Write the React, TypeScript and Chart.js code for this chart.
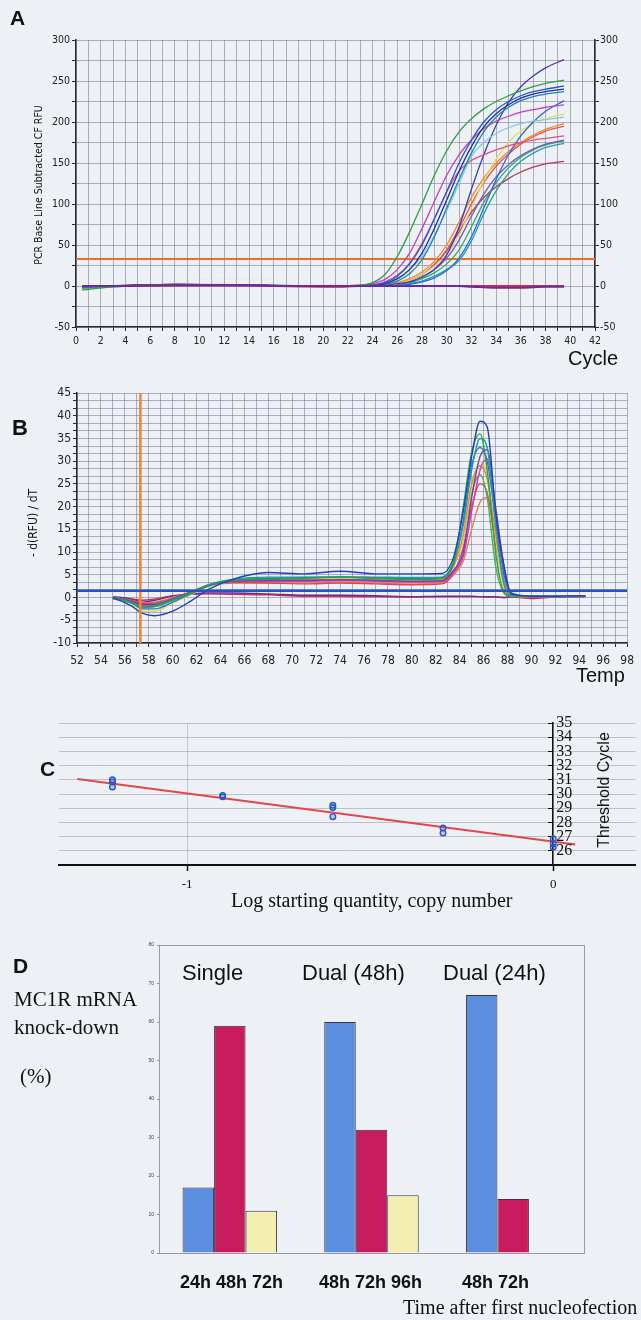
import React, { useEffect, useRef } from "react";
import { Chart, registerables } from "chart.js";

Chart.register(...registerables);

// ---------------- Panel A : amplification curves ----------------
const A_CYCLE = [0.5, 3, 8, 13, 18, 21, 23, 24, 25, 26, 27, 28, 29, 30, 31, 32, 33, 34, 35, 36, 37, 38, 39.5];
const A_GREEN_EARLY = [-5, -1, 1.5, 1, 0, 0, 1, 4, 14, 36, 66, 100, 135, 165, 188, 204, 216, 225, 232, 238, 243, 247, 251];
const A_BLUE_1 = [-1, 0, 2, 1.5, 0, -0.5, 0, 1, 4, 12, 27, 50, 82, 115, 150, 178, 200, 215, 225, 232, 237, 240, 244];
const A_BLUE_DARK = [0, 0.5, 2, 1, 0, -0.5, 0, 1, 3, 9, 20, 40, 70, 105, 140, 170, 194, 210, 221, 229, 234, 237, 240];
const A_TEAL_1 = [-1, 0, 1.5, 1, 0.5, 0, 0, 0.5, 2, 6, 15, 32, 60, 95, 130, 162, 188, 206, 218, 226, 231, 234, 237];
const A_MAGENTA = [-2, 0, 1.5, 1, 0, 0, 1, 3, 8, 20, 40, 70, 103, 135, 160, 178, 192, 201, 207, 212, 215, 218, 221];
const A_PINK = [-1, 0, 2, 1, 0, 0, 0, 1, 5, 13, 28, 52, 82, 115, 140, 153, 160, 166, 171, 175, 178, 180, 183];
const A_CYAN = [-1, 0.5, 1.5, 1, 0, 0, 0, 1, 3, 8, 20, 36, 62, 92, 125, 158, 175, 186, 193, 198, 201, 203, 206];
const A_NAVY = [0, 0, 2, 1, 0, -0.5, 0, 0, 1, 3, 5, 11, 20, 38, 72, 118, 160, 196, 224, 243, 256, 266, 276];
const A_BLUE_LATE = [-1, 0, 1.5, 1, 0, -0.5, 0, 0, 0, 0, 2, 5, 10, 19, 34, 60, 95, 130, 160, 183, 200, 213, 226];
const A_YELLOW = [-1, 0, 1, 1, 0, 0, 0, 0, 1, 3, 7, 14, 24, 38, 62, 95, 128, 155, 175, 189, 198, 204, 210];
const A_ORANGE = [-1, 0, 1.5, 1, 0, 0, 0, 0, 1, 4, 9, 17, 30, 50, 78, 108, 132, 150, 164, 175, 184, 191, 198];
const A_RED = [-1, 0, 1.5, 1, -0.5, -1, 0, 0, 1, 3, 7, 14, 26, 44, 70, 100, 126, 146, 161, 173, 182, 189, 195];
const A_VIOLET = [0, 0, 1.5, 1, 0, 0, 0, 0, 0, 2, 5, 11, 20, 34, 56, 85, 112, 133, 148, 159, 167, 173, 178];
const A_GREEN_LATE = [-3, -1, 1, 1, 0, 0, 0, 0, 0, 1, 4, 9, 16, 27, 44, 72, 102, 126, 144, 157, 166, 172, 177];
const A_TEAL_LATE = [-1, 0, 1, 1, 0, 0, 0, 0, 0, 1, 3, 6, 12, 20, 31, 55, 88, 116, 137, 152, 162, 169, 174];
const A_MAROON = [-1, 0, 1, 1, 0, 0, 0, 0, 1, 3, 7, 14, 26, 43, 66, 90, 108, 121, 131, 139, 145, 149, 152];
const A_NEG_PURPLE = [0, 0, 1, 1, 0, 0, 0, 0, 0, 0, 0, 0, 0, 0, 0, -1, -1.5, -2, -2, -2, -1.5, -1, -1];
const A_NEG_RED = [0, 0, 0.5, 0.5, -0.5, -1, 0, 0, 0, 0, 0, 0, 0, 0, 0, 0, 0, 0, 0, 0, 0, 0, 0];
const A_THRESHOLD = 33;
const A_X_RANGE = [0, 42];
const A_Y_RANGE = [-50, 300];

// ---------------- Panel B : melt curves ----------------
const B_TEMP = [55, 56.5, 57.5, 58.5, 60, 61.5, 63, 65, 68, 71, 74, 77, 80, 82.5, 83.5, 84.3, 85, 85.7, 86.3, 87, 87.7, 88.3, 90, 92, 94.5];
const B_BLUE_TALL = [0, -1.8, -3.5, -4, -3, -0.8, 1.8, 4, 5.5, 5.2, 5.8, 5.2, 5.2, 5.3, 9, 19, 31, 38.8, 37.5, 19, 7, 0.8, 0.3, 0.3, 0.4];
const B_GREEN = [0, -1, -2, -1.8, -0.5, 1, 2.8, 3.8, 4, 4.2, 4.5, 4.2, 4, 4.2, 8, 20, 32, 36, 28, 10, 1.2, 0.4, 0.3, 0.3, 0.4];
const B_TEAL = [-0.3, -1.2, -2.2, -2, -0.6, 1, 2.8, 4, 4.5, 4.5, 4.6, 4.5, 4.4, 4.5, 8, 16, 28, 35, 33, 16, 3, 0.5, 0.3, 0.2, 0.3];
const B_BLUE = [-0.2, -1, -2.5, -2.5, -1, 0.8, 2.6, 3.8, 4.2, 4.4, 4.5, 4.3, 4.2, 4.3, 7.5, 17, 29, 33, 30, 17, 5, 1, 0.3, 0.3, 0.3];
const B_PURPLE = [0, -0.8, -1.5, -1.5, -0.3, 1.2, 2.8, 3.6, 3.8, 3.8, 3.9, 3.8, 3.6, 3.7, 6, 10, 22, 31, 32.5, 20, 7, 1, 0.2, 0.2, 0.3];
const B_MAGENTA = [0, -0.8, -1.8, -1.6, -0.4, 1, 2.6, 3.5, 3.6, 3.6, 3.7, 3.6, 3.4, 3.5, 5.5, 9, 19, 28, 30.5, 18, 6, 1, 0.2, 0.1, 0.2];
const B_ORANGE = [0, -1, -2, -2, -0.6, 1, 2.6, 3.5, 3.8, 3.8, 4, 3.8, 3.6, 3.8, 7, 14, 25, 29, 26, 14, 3, 0.5, 0.2, 0.2, 0.3];
const B_YELLOW = [0, -1.2, -3, -3, -1.2, 0.6, 2.4, 3.6, 4, 4, 4.2, 4, 3.9, 4, 7, 13, 24, 30, 27, 13, 2, 0.4, 0.2, 0.2, 0.3];
const B_GREEN_2 = [0, -0.8, -1.6, -1.4, -0.3, 1.2, 2.8, 3.8, 4.2, 4.3, 4.4, 4.3, 4.2, 4.3, 7, 13, 23, 27, 22, 7, 1, 0.3, 0.2, 0.2, 0.3];
const B_RED = [0, -0.6, -1.3, -1.2, -0.2, 1.2, 2.6, 3.3, 3.2, 3, 3.2, 3, 2.8, 3, 5.5, 11, 20, 25, 23, 12, 3, 0.5, 0.1, 0.1, 0.2];
const B_SALMON = [0, -0.6, -1.2, -1, 0, 1.2, 2.5, 3.2, 3.2, 3.2, 3.3, 3.2, 3, 3.2, 5, 8, 15, 21, 22, 13, 4, 0.7, 0.2, 0.1, 0.2];
const B_NEG_PURPLE = [0.2, -0.3, -1, -0.6, 0.3, 0.8, 1, 1, 0.8, 0.5, 0.5, 0.4, 0.2, 0.3, 0.3, 0.3, 0.3, 0.2, 0.2, 0.2, 0, 0.2, 0, 0.2, 0.3];
const B_NEG_RED = [0, -0.3, -0.6, -0.3, 0.4, 0.7, 0.8, 0.7, 0.6, 0.3, 0.3, 0.2, 0.1, 0.2, 0.2, 0.2, 0.2, 0.2, 0.1, 0.1, 0, 0.1, -0.2, 0.1, 0.2];
const B_MARKER_TEMP = 57.3;
const B_BASELINE = 1.5;
const B_X_RANGE = [52, 98];
const B_Y_RANGE = [-10, 45];

// ---------------- Panel C : standard curve ----------------
const C_LOG_QTY = [-1.204, -1.204, -1.204, -0.903, -0.903, -0.602, -0.602, -0.602, -0.301, -0.301, 0, 0, 0];
const C_CT = [31.0, 30.85, 30.5, 29.9, 29.8, 29.2, 29.05, 28.4, 27.6, 27.25, 26.85, 26.5, 26.25];
const C_FIT_X = [-1.3, 0.06];
const C_FIT_Y = [31.05, 26.45];
const C_X_TICKS = [-1, 0];
const C_Y_GRID = [25, 26, 27, 28, 29, 30, 31, 32, 33, 34, 35];
const C_Y_LABELS = [26, 27, 28, 29, 30, 31, 32, 33, 34, 35];
const C_X_RANGE = [-1.35, 0.225];

// ---------------- Panel D : knock-down bars ----------------
const D_GROUPS = ["Single", "Dual (48h)", "Dual (24h)"];
const D_TIMES = ["24h 48h 72h", "48h 72h 96h", "48h 72h"];
const D_FIRST = [17, 60, 67];
const D_SECOND = [59, 32, 14];
const D_THIRD = [11, 15, null];
const D_Y_RANGE = [0, 80];

// ---------------- styles ----------------
const BG = "#edf0f5";
const SANS = '"Liberation Sans", Arial, sans-serif';
const SERIF = '"Liberation Serif", "Times New Roman", serif';
const TAHOMA = '"DejaVu Sans Condensed", "DejaVu Sans", Verdana, sans-serif';
const GRID = "rgba(105,105,135,0.5)";
const AXIS = "#2a2a35";

const A_SERIES = [
  A_GREEN_EARLY, A_BLUE_1, A_BLUE_DARK, A_TEAL_1, A_MAGENTA, A_PINK, A_CYAN, A_NAVY,
  A_BLUE_LATE, A_YELLOW, A_ORANGE, A_RED, A_VIOLET, A_GREEN_LATE, A_TEAL_LATE, A_MAROON,
  A_NEG_PURPLE, A_NEG_RED,
];
const A_COLORS = [
  "#2f9e44", "#2456d6", "#1e2f9c", "#1f86a8", "#c23fc2", "#e2507e", "#7fcbe6", "#3a3fb5",
  "#2a66e0", "#e2dc66", "#f08a24", "#e45454", "#7656d6", "#33ad55", "#1ea3a3", "#b33a56",
  "#6b2a9c", "#d42c44",
];
const B_SERIES = [
  B_BLUE_TALL, B_GREEN, B_TEAL, B_BLUE, B_PURPLE, B_MAGENTA, B_ORANGE, B_YELLOW,
  B_GREEN_2, B_RED, B_SALMON, B_NEG_PURPLE, B_NEG_RED,
];
const B_COLORS = [
  "#2040c0", "#2fa040", "#1fa0a0", "#2a70d8", "#7a3ab8", "#d040a0", "#f08a24", "#d8d860",
  "#4ab060", "#e04848", "#e0806a", "#6a2a9c", "#d03040",
];

const noPlugins = { legend: { display: false }, tooltip: { enabled: false } };

function makeA(): any {
  const datasets: any[] = [A_NEG_PURPLE, A_NEG_RED].map((vals, k) => ({
    data: A_CYCLE.map((x, j) => ({ x, y: vals[j] })),
    borderColor: A_COLORS[16 + k],
    borderWidth: 2,
    pointRadius: 0,
    cubicInterpolationMode: "monotone",
  }));
  A_SERIES.slice(0, 16).forEach((vals, i) => {
    datasets.push({
      data: A_CYCLE.map((x, j) => ({ x, y: vals[j] })),
      borderColor: A_COLORS[i],
      borderWidth: 1.3,
      pointRadius: 0,
      cubicInterpolationMode: "monotone",
    });
  });
  datasets.push({
    data: A_X_RANGE.map((x) => ({ x, y: A_THRESHOLD })),
    borderColor: "#f26a2c",
    borderWidth: 2,
    pointRadius: 0,
  });
  const tickFont = { family: TAHOMA, size: 10.5 };
  return {
    type: "line",
    data: { datasets },
    options: {
      animation: false,
      responsive: false,
      devicePixelRatio: 1,
      layout: { padding: { top: 40, left: 0, right: 0, bottom: 0 } },
      plugins: noPlugins,
      scales: {
        x: {
          type: "linear",
          min: A_X_RANGE[0],
          max: A_X_RANGE[1],
          afterFit: (s: any) => { s.height = 25; },
          ticks: {
            stepSize: 1,
            autoSkip: false,
            maxRotation: 0,
            padding: 4,
            font: tickFont,
            color: "#222",
            callback: (v: number) => (v % 2 === 0 ? String(v) : ""),
          },
          grid: { color: GRID, lineWidth: 1, tickLength: 4, tickColor: AXIS },
          border: { color: AXIS, width: 1.5 },
        },
        y: {
          type: "linear",
          position: "left",
          min: A_Y_RANGE[0],
          max: A_Y_RANGE[1],
          afterFit: (s: any) => { s.width = 76; },
          ticks: {
            stepSize: 25,
            autoSkip: false,
            padding: 2,
            font: tickFont,
            color: "#222",
            callback: (v: number) => (v % 50 === 0 ? String(v) : ""),
          },
          grid: { color: GRID, lineWidth: 1, tickLength: 4, tickColor: AXIS },
          border: { color: AXIS, width: 1.5 },
        },
        y2: {
          type: "linear",
          position: "right",
          min: A_Y_RANGE[0],
          max: A_Y_RANGE[1],
          afterFit: (s: any) => { s.width = 46; },
          ticks: {
            stepSize: 25,
            autoSkip: false,
            padding: 1,
            font: tickFont,
            color: "#222",
            callback: (v: number) => (v % 50 === 0 ? String(v) : ""),
          },
          grid: { drawOnChartArea: false, tickLength: 4, tickColor: AXIS },
          border: { color: AXIS, width: 1.5 },
        },
      },
    },
  };
}

function makeB(): any {
  const datasets: any[] = [];
  datasets.push({
    data: B_X_RANGE.map((x) => ({ x, y: B_BASELINE })),
    borderColor: "#2454c4",
    borderWidth: 2.5,
    pointRadius: 0,
  });
  datasets.push({
    data: B_Y_RANGE.map((y) => ({ x: B_MARKER_TEMP, y })),
    borderColor: "#f0843a",
    borderWidth: 2.5,
    pointRadius: 0,
  });
  B_SERIES.forEach((vals, i) => {
    datasets.push({
      data: B_TEMP.map((x, j) => ({ x, y: vals[j] })),
      borderColor: B_COLORS[i],
      borderWidth: 1.4,
      pointRadius: 0,
      cubicInterpolationMode: "monotone",
    });
  });
  const tickFont = { family: TAHOMA, size: 12 };
  const yTicks: number[] = [];
  for (let i = 0; i <= 33; i++) yTicks.push(B_Y_RANGE[0] + (i * 5) / 3);
  return {
    type: "line",
    data: { datasets },
    options: {
      animation: false,
      responsive: false,
      devicePixelRatio: 1,
      layout: { padding: { top: 13, left: 0, right: 7, bottom: 0 } },
      plugins: noPlugins,
      scales: {
        x: {
          type: "linear",
          min: B_X_RANGE[0],
          max: B_X_RANGE[1],
          afterFit: (s: any) => { s.height = 37; },
          ticks: {
            stepSize: 1,
            autoSkip: false,
            maxRotation: 0,
            padding: 7,
            font: tickFont,
            color: "#222",
            callback: (v: number) => (v % 2 === 0 ? String(v) : ""),
          },
          grid: { color: GRID, tickLength: 4, tickColor: AXIS },
          border: { color: AXIS, width: 1.5 },
        },
        y: {
          type: "linear",
          min: B_Y_RANGE[0],
          max: B_Y_RANGE[1],
          afterBuildTicks: (s: any) => { s.ticks = yTicks.map((v) => ({ value: v })); },
          afterFit: (s: any) => { s.width = 77; },
          ticks: {
            autoSkip: false,
            padding: 2,
            font: tickFont,
            color: "#222",
            callback: (v: number) =>
              Math.abs(v / 5 - Math.round(v / 5)) < 1e-6 ? String(Math.round(v)) : "",
          },
          grid: { color: GRID, tickLength: 4, tickColor: AXIS },
          border: { color: AXIS, width: 1.5 },
        },
      },
    },
  };
}

const cAxisLabels = {
  id: "cAxisLabels",
  afterDraw(chart: any) {
    const { ctx } = chart;
    const xs = chart.scales.x;
    const ys = chart.scales.y;
    const x0 = xs.getPixelForValue(0);
    ctx.save();
    ctx.font = `16px ${SERIF}`;
    ctx.fillStyle = "#111";
    ctx.textAlign = "left";
    ctx.textBaseline = "middle";
    C_Y_LABELS.forEach((v) => ctx.fillText(String(v), x0 + 3, ys.getPixelForValue(v)));
    ctx.restore();
  },
};

function makeC(): any {
  return {
    type: "scatter",
    data: {
      datasets: [
        {
          type: "scatter",
          data: C_LOG_QTY.map((x, i) => ({ x, y: C_CT[i] })),
          pointRadius: 2.8,
          pointBorderWidth: 1.4,
          borderColor: "#2a58c8",
          backgroundColor: "rgba(40,80,200,0.25)",
        },
        {
          type: "line",
          data: C_FIT_X.map((x, i) => ({ x, y: C_FIT_Y[i] })),
          borderColor: "#e2484a",
          borderWidth: 2,
          pointRadius: 0,
        },
      ],
    },
    options: {
      animation: false,
      responsive: false,
      devicePixelRatio: 1,
      layout: { padding: { top: 23, left: 59, right: 0, bottom: 0 } },
      plugins: noPlugins,
      scales: {
        x: {
          type: "linear",
          min: C_X_RANGE[0],
          max: C_X_RANGE[1],
          afterBuildTicks: (s: any) => { s.ticks = C_X_TICKS.map((v) => ({ value: v })); },
          afterFit: (s: any) => { s.height = 50; },
          ticks: { padding: 6, font: { family: SERIF, size: 13 }, color: "#111", maxRotation: 0 },
          grid: { color: "rgba(120,120,130,0.35)", tickLength: 6, tickColor: "#111", tickWidth: 1.5 },
          border: { color: "#111", width: 2 },
        },
        y: {
          type: "linear",
          position: { x: 0 },
          min: 25,
          max: 35,
          afterBuildTicks: (s: any) => { s.ticks = C_Y_GRID.map((v) => ({ value: v })); },
          ticks: { display: false },
          grid: { color: "rgba(120,120,130,0.4)", tickLength: 4, tickColor: "#111" },
          border: { color: "#111", width: 1.5 },
        },
      },
    },
    plugins: [cAxisLabels],
  };
}

const dFrame = {
  id: "dFrame",
  afterDraw(chart: any) {
    const { ctx, chartArea } = chart;
    ctx.save();
    ctx.strokeStyle = "#9a9aa0";
    ctx.lineWidth = 1;
    ctx.strokeRect(
      chartArea.left + 0.5,
      chartArea.top + 0.5,
      chartArea.right - chartArea.left,
      chartArea.bottom - chartArea.top
    );
    ctx.restore();
  },
};

function makeD(): any {
  const common = { borderColor: "#35354a", borderWidth: 1, categoryPercentage: 0.667, barPercentage: 1 };
  return {
    type: "bar",
    data: {
      labels: D_GROUPS,
      datasets: [
        { data: D_FIRST, backgroundColor: "#5b8ede", ...common },
        { data: D_SECOND, backgroundColor: "#c81c5e", ...common },
        { data: D_THIRD, backgroundColor: "#f3efb2", ...common },
      ],
    },
    options: {
      animation: false,
      responsive: false,
      devicePixelRatio: 1,
      layout: { padding: { top: 15, left: 0, right: 57, bottom: 0 } },
      plugins: noPlugins,
      scales: {
        x: {
          afterFit: (s: any) => { s.height = 47; },
          ticks: { display: false },
          grid: { display: false },
          border: { color: "#9a9aa0" },
        },
        y: {
          min: D_Y_RANGE[0],
          max: D_Y_RANGE[1],
          afterFit: (s: any) => { s.width = 159; },
          ticks: { stepSize: 10, font: { family: SANS, size: 5 }, color: "#444", padding: 3 },
          grid: { drawOnChartArea: false, tickLength: 2, color: "#9a9aa0" },
          border: { color: "#9a9aa0" },
        },
      },
    },
    plugins: [dFrame],
  };
}

function ChartCanvas({ top, width, height, make }: { top: number; width: number; height: number; make: () => any }) {
  const ref = useRef<HTMLCanvasElement>(null);
  useEffect(() => {
    const chart = new Chart(ref.current as HTMLCanvasElement, make());
    return () => chart.destroy();
  }, []);
  return (
    <canvas
      ref={ref}
      width={width}
      height={height}
      style={{ position: "absolute", left: 0, top, width, height }}
    />
  );
}

function Txt({ left, top, size, family = SANS, bold = false, children }: any) {
  return (
    <div
      style={{
        position: "absolute",
        left,
        top,
        fontSize: size,
        fontFamily: family,
        fontWeight: bold ? 700 : 400,
        lineHeight: 1,
        whiteSpace: "nowrap",
        color: "#111",
      }}
    >
      {children}
    </div>
  );
}

function RotTxt({ cx, cy, size, family = SANS, children }: any) {
  return (
    <div
      style={{
        position: "absolute",
        left: cx,
        top: cy,
        fontSize: size,
        fontFamily: family,
        lineHeight: 1,
        whiteSpace: "nowrap",
        color: "#111",
        transform: "translate(-50%, -50%) rotate(-90deg)",
      }}
    >
      {children}
    </div>
  );
}

const D_TITLE_LEFT = [182, 302, 443];
const D_TIME_LEFT = [180, 319, 462];

export default function App() {
  return (
    <div
      style={{
        position: "absolute",
        left: 0,
        top: 0,
        width: 641,
        height: 1320,
        background: BG,
        overflow: "hidden",
      }}
    >
      <ChartCanvas top={0} width={641} height={352} make={makeA} />
      <ChartCanvas top={380} width={641} height={300} make={makeB} />
      <ChartCanvas top={700} width={641} height={215} make={makeC} />
      <ChartCanvas top={930} width={641} height={370} make={makeD} />

      <Txt left={10} top={7} size={21} bold>A</Txt>
      <RotTxt cx={38} cy={185} size={10.5} family={TAHOMA}>PCR Base Line Subtracted CF RFU</RotTxt>
      <Txt left={568} top={348} size={20}>Cycle</Txt>

      <Txt left={12} top={417} size={22} bold>B</Txt>
      <RotTxt cx={33} cy={523} size={12} family={TAHOMA}>- d(RFU) / dT</RotTxt>
      <Txt left={576} top={665} size={20}>Temp</Txt>

      <Txt left={40} top={758} size={21} bold>C</Txt>
      <RotTxt cx={604} cy={790} size={16}>Threshold Cycle</RotTxt>
      <Txt left={231} top={890} size={20} family={SERIF}>Log starting quantity, copy number</Txt>

      <Txt left={13} top={955} size={21} bold>D</Txt>
      <Txt left={14} top={989} size={21} family={SERIF}>MC1R mRNA</Txt>
      <Txt left={14} top={1017} size={21} family={SERIF}>knock-down</Txt>
      <Txt left={20} top={1066} size={21} family={SERIF}>(%)</Txt>
      {D_GROUPS.map((g, i) => (
        <Txt key={g} left={D_TITLE_LEFT[i]} top={962} size={22}>{g}</Txt>
      ))}
      {D_TIMES.map((t, i) => (
        <Txt key={t + i} left={D_TIME_LEFT[i]} top={1273} size={18} bold>{t}</Txt>
      ))}
      <Txt left={403} top={1297} size={20} family={SERIF}>Time after first nucleofection</Txt>
    </div>
  );
}
